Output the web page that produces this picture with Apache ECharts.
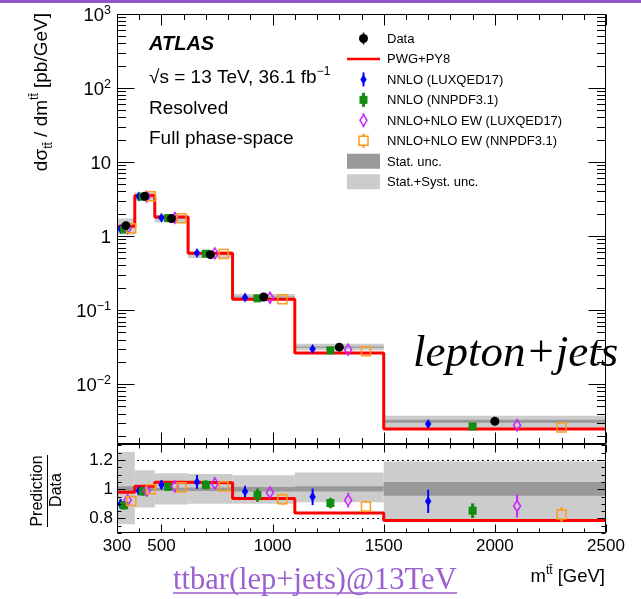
<!DOCTYPE html>
<html>
<head>
<meta charset="utf-8">
<title>ttbar invariant mass, lepton+jets</title>
<script src="https://cdn.jsdelivr.net/npm/echarts@6.0.0/dist/echarts.min.js"></script>
<style>
html, body { margin: 0; padding: 0; background: #ffffff; }
#chart { width: 641px; height: 599px; }
</style>
</head>
<body>
<div id="chart"></div>
<script>
// m_tt bin edges [GeV]
const binEdges = [300, 380, 470, 620, 820, 1100, 1500, 2500];
// Unfolded data, dsigma/dm_tt [pb/GeV]
const dataValues = [1.38, 3.45, 1.72, 0.56, 0.150, 0.0315, 0.00314];
// Relative uncertainties of the data (statistical and total)
const statUp   = [0.02, 0.012, 0.01, 0.012, 0.015, 0.02, 0.05];
const statDown = [0.02, 0.012, 0.01, 0.012, 0.015, 0.015, 0.045];
const totUp    = [0.255, 0.13, 0.11, 0.105, 0.095, 0.115, 0.19];
const totDown  = [0.24, 0.125, 0.105, 0.10, 0.10, 0.09, 0.215];
// Powheg+Pythia8 prediction [pb/GeV]
const pwgPy8 = [1.352, 3.519, 1.803, 0.585, 0.1405, 0.02637, 0.002465];
// Fixed-order predictions [pb/GeV] and their relative uncertainties
const nnloLux      = [1.242, 3.416, 1.772, 0.588, 0.1476, 0.02986, 0.002879];
const nnloLuxErr   = [0.035, 0.03, 0.03, 0.045, 0.04, 0.06, 0.087];
const nnloNnpdf    = [1.228, 3.398, 1.749, 0.5768, 0.144, 0.02851, 0.002678];
const nnloNnpdfErr = [0.033, 0.03, 0.025, 0.03, 0.047, 0.039, 0.059];
const ewLux        = [1.2765, 3.4155, 1.7544, 0.5824, 0.1467, 0.02914, 0.002779];
const ewLuxErr     = [0.032, 0.03, 0.03, 0.035, 0.041, 0.054, 0.09];
const ewNnpdf      = [1.2696, 3.45, 1.7424, 0.5701, 0.1398, 0.02778, 0.002594];
const ewNnpdfErr   = [0.033, 0.03, 0.025, 0.03, 0.043, 0.045, 0.06];
// Axis tick labels
const xTickLabels = [300, 500, 1000, 1500, 2000, 2500];
const upperDecades = [-2, -1, 0, 1, 2, 3];
const ratioTickLabels = [0.8, 1, 1.2];
const ratioGuides = [0.8, 1.2];

const SANS = '"Liberation Sans", Arial, Helvetica, sans-serif';
const SERIF = '"Liberation Serif", "Times New Roman", serif';
const X_MIN = 300, X_MAX = 2500;
const Y_MIN = 0.00155, Y_MAX = 1000;
const R_MIN = 0.7, R_MAX = 1.31;
const COLORS = {
  data: '#000000', pwg: '#ff0000', lux: '#0000ff', nnpdf: '#108c10',
  ewLux: '#cc22ff', ewNnpdf: '#ff9a1a', stat: '#999999', tot: '#cccccc'
};

const nBins = dataValues.length;
const binLo = binEdges.slice(0, -1);
const binHi = binEdges.slice(1);
function xIn(i, f) { return binLo[i] + f * (binHi[i] - binLo[i]); }

function vline(x, y1, y2, w, c) {
  return { type: 'line', shape: { x1: x, y1: y1, x2: x, y2: y2 }, style: { stroke: c, lineWidth: w } };
}

// Marker with its error bar, in pixel space
function marker(kind, x, y, yTop, yBot) {
  const out = [];
  const c = COLORS[kind];
  if (kind === 'data') {
    if (yTop < y - 4.5) out.push(vline(x, yTop, yBot, 1.5, c));
    out.push({ type: 'circle', shape: { cx: x, cy: y, r: 4.5 }, style: { fill: c } });
  } else if (kind === 'lux') {
    out.push(vline(x, yTop, yBot, 2, c));
    out.push({ type: 'polygon', shape: { points: [[x, y - 5], [x + 3.2, y], [x, y + 5], [x - 3.2, y]] }, style: { fill: c } });
  } else if (kind === 'nnpdf') {
    out.push(vline(x, yTop, yBot, 3, c));
    out.push({ type: 'rect', shape: { x: x - 4, y: y - 4, width: 8, height: 8 }, style: { fill: c } });
  } else if (kind === 'ewLux') {
    const h = 5.5;
    if (yTop < y - h) out.push(vline(x, yTop, y - h, 2, c));
    if (yBot > y + h) out.push(vline(x, y + h, yBot, 2, c));
    out.push({ type: 'polygon', shape: { points: [[x, y - h], [x + 3.5, y], [x, y + h], [x - 3.5, y]] }, style: { fill: 'none', stroke: c, lineWidth: 1.5 } });
  } else if (kind === 'ewNnpdf') {
    const h = 4.5;
    if (yTop < y - h) out.push(vline(x, yTop, y - h, 2.5, c));
    if (yBot > y + h) out.push(vline(x, y + h, yBot, 2.5, c));
    out.push({ type: 'rect', shape: { x: x - h, y: y - h, width: 2 * h, height: 2 * h }, style: { fill: 'none', stroke: c, lineWidth: 1.5 } });
  }
  return out;
}

// Error-bar series: grid 0 = cross section, grid 1 = prediction / data
function pointSeries(name, kind, values, errs, frac, grid) {
  const data = values.map((v, i) => {
    const y = grid === 0 ? v : v / dataValues[i];
    return [xIn(i, frac), y, y * (1 - errs[i]), y * (1 + errs[i])];
  });
  return {
    type: 'custom', name: name, xAxisIndex: grid, yAxisIndex: grid, z: 4,
    encode: { x: 0, y: [1, 2, 3] }, data: data,
    renderItem: function (params, api) {
      const x = api.value(0);
      const p = api.coord([x, api.value(1)]);
      const t = api.coord([x, api.value(3)]);
      const b = api.coord([x, api.value(2)]);
      return { type: 'group', children: marker(kind, p[0], p[1], t[1], b[1]) };
    }
  };
}

// Statistical and total uncertainty bands of the data
function bandSeries(grid) {
  const data = dataValues.map((v, i) => {
    const ref = grid === 0 ? v : 1;
    return [binLo[i], binHi[i], ref * (1 - totDown[i]), ref * (1 + totUp[i]),
            ref * (1 - statDown[i]), ref * (1 + statUp[i])];
  });
  return {
    type: 'custom', xAxisIndex: grid, yAxisIndex: grid, z: 1, silent: true,
    encode: { x: [0, 1], y: [2, 3, 4, 5] }, data: data,
    renderItem: function (params, api) {
      const a = api.coord([api.value(0), api.value(3)]);
      const b = api.coord([api.value(1), api.value(2)]);
      const c = api.coord([api.value(0), api.value(5)]);
      const d = api.coord([api.value(1), api.value(4)]);
      return { type: 'group', children: [
        { type: 'rect', shape: { x: a[0], y: a[1], width: b[0] - a[0], height: b[1] - a[1] }, style: { fill: COLORS.tot } },
        { type: 'rect', shape: { x: c[0], y: c[1], width: d[0] - c[0], height: d[1] - c[1] }, style: { fill: COLORS.stat } }
      ] };
    }
  };
}

// Powheg+Pythia8 histogram as a step line
function stepSeries(grid) {
  const pts = pwgPy8.map((v, i) => [binLo[i], grid === 0 ? v : v / dataValues[i]]);
  pts.push([binHi[nBins - 1], pts[nBins - 1][1]]);
  return {
    type: 'line', xAxisIndex: grid, yAxisIndex: grid, z: 3, step: 'end',
    symbol: 'none', data: pts, silent: true,
    lineStyle: { color: COLORS.pwg, width: 3 }
  };
}

// Dotted guide lines in the ratio panel
function guideSeries() {
  return {
    type: 'custom', xAxisIndex: 1, yAxisIndex: 1, z: 0, silent: true,
    encode: { x: 0, y: 1 }, data: ratioGuides.map(v => [X_MIN, v]),
    renderItem: function (params, api) {
      const a = api.coord([X_MIN, api.value(1)]);
      const b = api.coord([X_MAX, api.value(1)]);
      const y = Math.round(a[1]) + 0.5;
      return { type: 'line', shape: { x1: a[0], y1: y, x2: b[0], y2: y }, style: { stroke: '#000', lineWidth: 1, lineDash: [2, 3] } };
    }
  };
}

// Frame with inward ticks on all four sides
function frameSeries(grid) {
  const yLo = grid === 0 ? Y_MIN : R_MIN, yHi = grid === 0 ? Y_MAX : R_MAX;
  const xMaj = grid === 0 ? 11 : 8, xMin = grid === 0 ? 5.5 : 4;
  const yMaj = grid === 0 ? 17 : 8, yMin = grid === 0 ? 8.5 : 4;
  const yTicks = [];
  if (grid === 0) {
    for (let k = -3; k <= 2; k++) {
      for (let m = 1; m <= 9; m++) {
        const v = m * Math.pow(10, k);
        if (v > Y_MIN && v < Y_MAX) yTicks.push([v, m === 1]);
      }
    }
    yTicks.push([Y_MAX, true]);
  } else {
    for (let s = 0; s <= 12; s++) {
      const v = Math.round((0.7 + s * 0.05) * 100) / 100;
      yTicks.push([v, Math.abs(v - 0.8) < 1e-6 || Math.abs(v - 1) < 1e-6 || Math.abs(v - 1.2) < 1e-6]);
    }
  }
  return {
    type: 'custom', xAxisIndex: grid, yAxisIndex: grid, z: 10, silent: true,
    encode: { x: 0, y: 1 }, data: [[X_MIN, yHi]],
    renderItem: function (params, api) {
      const snap = v => Math.round(v) + 0.5;
      const tl = api.coord([X_MIN, yHi]);
      const br = api.coord([X_MAX, yLo]);
      const L = snap(tl[0]), T = snap(tl[1]), R = snap(br[0]) - 1, B = snap(br[1]) - 1;
      const ch = [];
      const seg = (x1, y1, x2, y2) => ch.push({ type: 'line', shape: { x1: x1, y1: y1, x2: x2, y2: y2 }, style: { stroke: '#000', lineWidth: 1 } });
      ch.push({ type: 'rect', shape: { x: L, y: T, width: R - L, height: B - T }, style: { fill: 'none', stroke: '#000', lineWidth: 1 } });
      for (let v = X_MIN; v <= X_MAX; v += 100) {
        const px = snap(api.coord([v, yHi])[0]);
        const len = v % 500 === 0 ? xMaj : xMin;
        seg(px, B, px, B - len);
        seg(px, T, px, T + len);
      }
      yTicks.forEach(t => {
        const py = snap(api.coord([X_MIN, t[0]])[1]);
        const len = t[1] ? yMaj : yMin;
        seg(L, py, L + len, py);
        seg(R, py, R - len, py);
      });
      return { type: 'group', children: ch };
    }
  };
}

const series = [];
[0, 1].forEach(g => {
  series.push(bandSeries(g));
  series.push(stepSeries(g));
  series.push(pointSeries('NNLO (LUXQED17)', 'lux', nnloLux, nnloLuxErr, 0.2, g));
  series.push(pointSeries('NNLO (NNPDF3.1)', 'nnpdf', nnloNnpdf, nnloNnpdfErr, 0.4, g));
  series.push(pointSeries('NNLO+NLO EW (LUXQED17)', 'ewLux', ewLux, ewLuxErr, 0.6, g));
  series.push(pointSeries('NNLO+NLO EW (NNPDF3.1)', 'ewNnpdf', ewNnpdf, ewNnpdfErr, 0.8, g));
  series.push(frameSeries(g));
});
series.push(pointSeries('Data', 'data', dataValues, dataValues.map(() => 0), 0.5, 0));
series.push(guideSeries());

// Legend, labels and titles
const graphic = [];
graphic.push({ type: 'rect', shape: { x: 0, y: 0, width: 641, height: 3 }, style: { fill: '#9457c8' } });

function label(x, y, text, extra) {
  return { type: 'text', x: x, y: y, z: 20, style: Object.assign({ text: text, fontFamily: SANS, fontSize: 19, fill: '#000', verticalAlign: 'middle', align: 'left' }, extra || {}) };
}
graphic.push(label(149, 44.5, 'ATLAS', { fontSize: 20, fontWeight: 'bold', fontStyle: 'italic' }));
graphic.push(label(149, 77.5, '{n|\u221As = 13 TeV, 36.1 fb}{s|\u22121}', {
  rich: { n: { fontFamily: SANS, fontSize: 19, lineHeight: 24, verticalAlign: 'middle' },
          s: { fontFamily: SANS, fontSize: 12, lineHeight: 12, verticalAlign: 'top' } }
}));
graphic.push(label(149, 108.4, 'Resolved'));
graphic.push(label(149, 139, 'Full phase-space'));

const legendRows = [
  ['data', 'Data'], ['pwg', 'PWG+PY8'], ['lux', 'NNLO (LUXQED17)'], ['nnpdf', 'NNLO (NNPDF3.1)'],
  ['ewLux', 'NNLO+NLO EW (LUXQED17)'], ['ewNnpdf', 'NNLO+NLO EW (NNPDF3.1)'],
  ['stat', 'Stat. unc.'], ['tot', 'Stat.+Syst. unc.']
];
legendRows.forEach((row, i) => {
  const y = 38.5 + i * 20.45;
  const kind = row[0];
  let children;
  if (kind === 'pwg') {
    children = [{ type: 'line', shape: { x1: 347, y1: y, x2: 380, y2: y }, style: { stroke: COLORS.pwg, lineWidth: 2.5 } }];
  } else if (kind === 'stat' || kind === 'tot') {
    children = [{ type: 'rect', shape: { x: 347, y: y - 7.5, width: 33, height: 15 }, style: { fill: COLORS[kind] } }];
  } else {
    const e = kind === 'data' ? 6 : 7;
    children = marker(kind, 363.5, y, y - e, y + e);
  }
  graphic.push({ type: 'group', z: 20, children: children });
  graphic.push(label(387, y + 0.8, row[1], { fontSize: 13 }));
});

graphic.push({ type: 'text', x: 413, y: 354, z: 20, style: { text: 'lepton+jets', fontFamily: SERIF, fontStyle: 'italic', fontSize: 45, fill: '#000', verticalAlign: 'middle' } });

// Axis titles
graphic.push({ type: 'text', x: 42, y: 13, rotation: Math.PI / 2, z: 20, style: {
  text: '{n|d\u03C3}{b|tt\u0304}{n| / dm}{t|tt\u0304}{n| [pb/GeV]}', align: 'right', verticalAlign: 'middle',
  rich: { n: { fontFamily: SANS, fontSize: 19, lineHeight: 26, verticalAlign: 'middle', fill: '#000' },
          b: { fontFamily: SANS, fontSize: 12, lineHeight: 12, verticalAlign: 'bottom', fill: '#000' },
          t: { fontFamily: SANS, fontSize: 12, lineHeight: 12, verticalAlign: 'top', fill: '#000' } }
} });
graphic.push({ type: 'text', x: 37.5, y: 491, rotation: Math.PI / 2, z: 20, style: { text: 'Prediction', fontFamily: SANS, fontSize: 16, fill: '#000', align: 'center', verticalAlign: 'middle' } });
graphic.push({ type: 'line', z: 20, shape: { x1: 47.5, y1: 455, x2: 47.5, y2: 527 }, style: { stroke: '#000', lineWidth: 1 } });
graphic.push({ type: 'text', x: 57, y: 490, rotation: Math.PI / 2, z: 20, style: { text: 'Data', fontFamily: SANS, fontSize: 16, fill: '#000', align: 'center', verticalAlign: 'middle' } });
graphic.push({ type: 'text', x: 605, y: 577, z: 20, style: {
  text: '{n|m}{t|tt\u0304}{n| [GeV]}', align: 'right', verticalAlign: 'middle',
  rich: { n: { fontFamily: SANS, fontSize: 18.5, lineHeight: 24, verticalAlign: 'middle', fill: '#000' },
          t: { fontFamily: SANS, fontSize: 12, lineHeight: 12, verticalAlign: 'top', fill: '#000' } }
} });

// Link caption below the plot
graphic.push({ type: 'text', x: 173, y: 581, z: 20, style: { text: 'ttbar(lep+jets)@13TeV', fontFamily: SERIF, fontSize: 30.5, fill: '#9b5fcf', verticalAlign: 'middle' } });
graphic.push({ type: 'line', z: 20, shape: { x1: 173, y1: 593, x2: 457, y2: 593 }, style: { stroke: '#9b5fcf', lineWidth: 1.5 } });

const chart = echarts.init(document.getElementById('chart'), null, { renderer: 'canvas' });
chart.setOption({
  animation: false,
  backgroundColor: '#ffffff',
  grid: [
    { left: 117, top: 14, width: 489, height: 430, show: false },
    { left: 117, top: 444, width: 489, height: 89, show: false }
  ],
  xAxis: [0, 1].map(g => ({
    type: 'value', gridIndex: g, min: X_MIN, max: X_MAX, interval: 100,
    axisLine: { show: false }, axisTick: { show: false }, splitLine: { show: false },
    axisLabel: g === 0 ? { show: false } : {
      margin: 5, fontFamily: SANS, fontSize: 17, color: '#000',
      formatter: v => (xTickLabels.indexOf(Math.round(v)) >= 0 ? String(Math.round(v)) : '')
    }
  })),
  yAxis: [
    {
      type: 'log', gridIndex: 0, logBase: 10, min: Y_MIN, max: Y_MAX,
      axisLine: { show: false }, axisTick: { show: false }, splitLine: { show: false },
      axisLabel: {
        showMinLabel: false, margin: 6, padding: [4, 0, 0, 0],
        formatter: v => {
          const k = Math.round(Math.log10(v));
          if (upperDecades.indexOf(k) < 0 || Math.abs(Math.log10(v) - k) > 1e-6) return '';
          if (k === 0) return '{b|1}';
          if (k === 1) return '{b|10}';
          return '{b|10}{s|' + (k < 0 ? '\u2212' : '') + Math.abs(k) + '}';
        },
        rich: {
          b: { fontFamily: SANS, fontSize: 18.5, lineHeight: 24, verticalAlign: 'middle', color: '#000' },
          s: { fontFamily: SANS, fontSize: 12.5, lineHeight: 12, verticalAlign: 'top', color: '#000' }
        }
      }
    },
    {
      type: 'value', gridIndex: 1, min: R_MIN, max: R_MAX, interval: 0.1,
      axisLine: { show: false }, axisTick: { show: false }, splitLine: { show: false },
      axisLabel: {
        margin: 4, padding: [2, 0, 0, 0], fontFamily: SANS, fontSize: 17, color: '#000',
        formatter: v => {
          const r = Math.round(v * 10) / 10;
          return (ratioTickLabels.indexOf(r) >= 0 && Math.abs(v - r) < 1e-6) ? String(r) : '';
        }
      }
    }
  ],
  graphic: graphic,
  series: series
});
</script>
</body>
</html>
